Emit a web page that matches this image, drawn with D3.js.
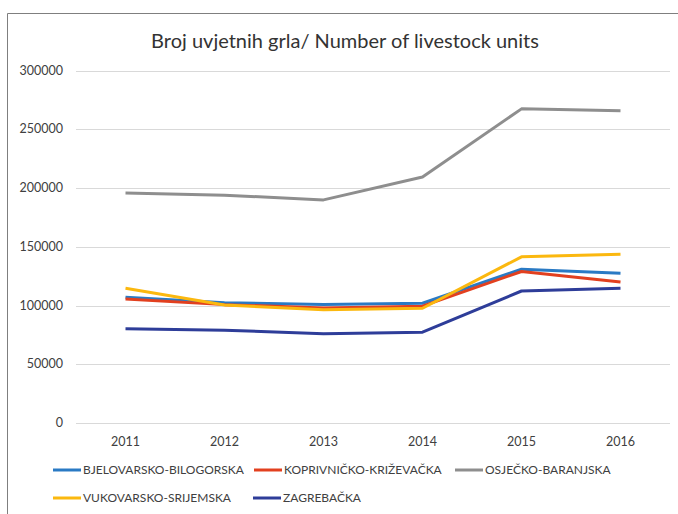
<!DOCTYPE html>
<html>
<head>
<meta charset="utf-8">
<script src="https://cdn.jsdelivr.net/npm/d3@7"></script>
<style>
  body { margin: 0; background: #fff; }
  svg text { font-family: Lato, "Liberation Sans", sans-serif; fill: #404040; }
</style>
</head>
<body>
<div id="chart"></div>
<script>
// data
const years = ["2011", "2012", "2013", "2014", "2015", "2016"];
const seriesNames = ["BJELOVARSKO-BILOGORSKA", "KOPRIVNIČKO-KRIŽEVAČKA", "OSJEČKO-BARANJSKA", "VUKOVARSKO-SRIJEMSKA", "ZAGREBAČKA"];
const bjelovarsko = [107000, 102500, 101000, 102000, 131000, 127500];
const koprivnicko = [105500, 100800, 98000, 99500, 129000, 120000];
const osjecko = [195800, 194000, 190000, 209500, 267500, 266000];
const vukovarsko = [114700, 100500, 96500, 97700, 141500, 143700];
const zagrebacka = [80300, 79000, 76000, 77300, 112400, 114700];
const yTicks = [0, 50000, 100000, 150000, 200000, 250000, 300000];
const colors = ["#2a7ac4", "#e2401f", "#8e8e8e", "#fbb80f", "#2e3d99"];

const W = 678, H = 514;
const svg = d3.select("#chart").append("svg")
    .attr("width", W)
    .attr("height", H);

// outer frame (only left and top edges visible)
svg.append("path")
    .attr("d", "M7.5,514 L7.5,13.5 L678,13.5")
    .attr("fill", "none")
    .attr("stroke", "#7f7f7f")
    .attr("stroke-width", 1);

svg.append("text")
    .attr("x", 345)
    .attr("y", 48)
    .attr("text-anchor", "middle")
    .style("font-size", "20px")
    .style("fill", "#333")
    .text("Broj uvjetnih grla/ Number of livestock units");

const x = d3.scaleBand().domain(years).range([76, 670]);
const y = d3.scaleLinear().domain([0, 300000]).range([423, 70.7]);

// gridlines
svg.append("g")
    .selectAll("line")
    .data(yTicks)
    .enter()
    .append("line")
      .attr("x1", 76)
      .attr("x2", 670)
      .attr("y1", d => Math.round(y(d)) + 0.5)
      .attr("y2", d => Math.round(y(d)) + 0.5)
      .attr("stroke", "#d9d9d9")
      .attr("stroke-width", 1);

// y axis labels
svg.append("g")
    .selectAll("text")
    .data(yTicks)
    .enter()
    .append("text")
      .attr("x", 63)
      .attr("y", d => y(d) + 4)
      .attr("text-anchor", "end")
      .style("font-size", "12.5px")
      .text(d => d);

// x axis labels
svg.append("g")
    .selectAll("text")
    .data(years)
    .enter()
    .append("text")
      .attr("x", d => x(d) + x.bandwidth() / 2)
      .attr("y", 446)
      .attr("text-anchor", "middle")
      .style("font-size", "12.5px")
      .text(d => d);

const allSeries = [bjelovarsko, koprivnicko, osjecko, vukovarsko, zagrebacka];
const line = d3.line()
    .x((d, i) => x(years[i]) + x.bandwidth() / 2)
    .y(d => y(d));

// draw order: gray first then others, keep legend order for colours
const drawOrder = [2, 4, 0, 1, 3];
drawOrder.forEach(k => {
    svg.append("path")
        .datum(allSeries[k])
        .attr("fill", "none")
        .attr("stroke", colors[k])
        .attr("stroke-width", 3)
        .attr("stroke-linejoin", "round")
        .attr("d", line);
});

// legend
const legendPos = [
    { x: 53, y: 474 },
    { x: 254, y: 474 },
    { x: 455, y: 474 },
    { x: 53, y: 502 },
    { x: 253, y: 502 }
];
const legend = svg.append("g")
    .selectAll("g")
    .data(seriesNames)
    .enter()
    .append("g")
      .attr("transform", (d, i) => `translate(${legendPos[i].x},${legendPos[i].y})`);

legend.append("line")
    .attr("x1", 0)
    .attr("x2", 28)
    .attr("y1", -4)
    .attr("y2", -4)
    .attr("stroke", (d, i) => colors[i])
    .attr("stroke-width", 3);

legend.append("text")
    .attr("x", 30)
    .attr("y", 0)
    .style("font-size", "12px")
    .text(d => d);
</script>
</body>
</html>
